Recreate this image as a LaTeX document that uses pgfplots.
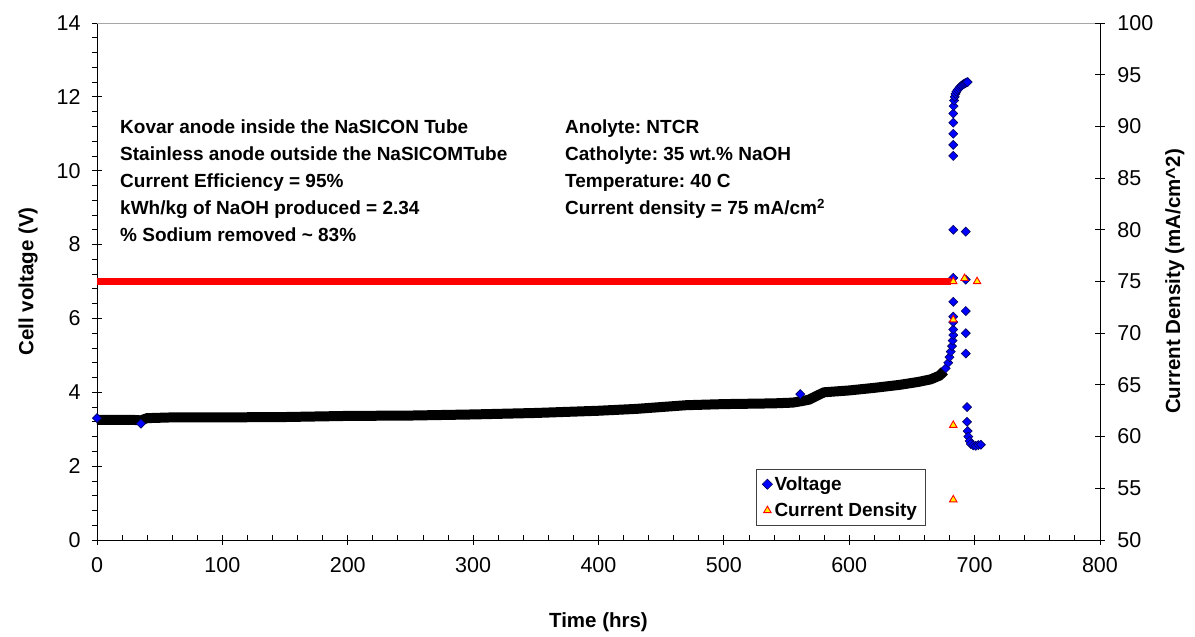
\documentclass[border=0pt]{standalone}
\usepackage{fontspec}
\setmainfont{Liberation Sans}
\usepackage{pgfplots}
\pgfplotsset{compat=1.18}
\begin{document}
\frenchspacing
\begin{tikzpicture}[x=1pt,y=1pt]
\useasboundingbox (-97,-97) rectangle (1098,540);
\pgfplotsset{
  common/.style={
    at={(0,0)}, anchor=south west,
    scale only axis, width=1003pt, height=517pt,
    xmin=0, xmax=800,
    tick align=center, major tick length=10pt, minor tick length=5pt,
    tick style={black, line width=0.8pt},
    axis line style={black, line width=0.8pt},
    ticklabel style={font=\fontsize{21.5}{25}\selectfont},
    /pgf/number format/assume math mode=true,
  }
}
\begin{axis}[common,
  ymin=0, ymax=14,
  axis x line*=bottom, axis y line*=left,
  xtick={0,100,...,800}, ytick={0,2,...,14},
  minor x tick num=4, minor y tick num=4,
  minor x tick style={yshift=2.5pt}, minor y tick style={xshift=-2.5pt},
  xticklabel style={yshift=-9pt},
  yticklabel style={xshift=-8pt},
  xlabel={Time (hrs)}, ylabel={Cell voltage (V)},
  every axis x label/.style={at={(axis description cs:0.5,0)}, anchor=center, yshift=-82pt,
    font=\bfseries\fontsize{20.5}{24}\selectfont},
  every axis y label/.style={at={([xshift=-69pt]axis description cs:0,0.5)}, anchor=center, rotate=90,
    font=\bfseries\fontsize{20.5}{24}\selectfont},
  clip=false,
]
\draw[gray!70, line width=0.8pt] (rel axis cs:0,1) -- (rel axis cs:1,1);
% dense voltage band
\addplot[black, line width=10pt, forget plot] coordinates {
(0,3.25)(30,3.25)(35,3.24)(40,3.3)(60,3.32)(100,3.32)(150,3.33)(200,3.36)
(250,3.37)(300,3.4)(350,3.44)(400,3.5)(430,3.55)(450,3.6)(470,3.65)
(500,3.68)(540,3.7)(555,3.72)(562,3.76)(568,3.8)(575,3.92)(580,4.0)
(600,4.05)(620,4.12)(640,4.2)(655,4.28)(665,4.35)(672,4.45)(676,4.58)};
% voltage markers
\addplot[only marks, mark=square*, mark size=3.2pt,
  mark options={rotate=45, fill=blue, draw=blue!35!black, line width=0.6pt}] coordinates {
(0,3.3)(561,3.95)(35,3.15)
(677,4.65)(679,4.8)(680,4.95)(681,5.1)(682,5.25)(682.5,5.4)(683,5.55)(683,5.7)
(683,5.9)(683,6.05)(683,6.45)(683,7.1)(683,8.4)(683,10.4)(683,10.7)(683,11.0)
(683,11.3)(683,11.55)(683.3,11.75)(683.7,11.9)(684.2,12.0)(684.8,12.08)
(685.5,12.14)(686.5,12.19)(687.5,12.23)(688.5,12.27)(689.5,12.3)(690.5,12.33)
(691.5,12.35)(692.5,12.37)(693.5,12.39)(694.5,12.4)
(693,8.35)(693,7.05)(693,6.2)(693,5.6)(693,5.05)(694,3.6)(694,3.2)
(694.5,2.95)(695,2.8)(696,2.68)(697,2.6)(699,2.56)(701,2.55)(703,2.57)(705,2.58)};
\end{axis}
\begin{axis}[common,
  ymin=50, ymax=100,
  axis y line*=right, axis x line=none,
  ytick={50,55,...,100},
  yticklabel style={xshift=9pt},
  ylabel={Current Density (mA/cm\textasciicircum 2)},
  every axis y label/.style={at={([xshift=75pt]axis description cs:1,0.5)}, anchor=center, rotate=90,
    font=\bfseries\fontsize{20.5}{24}\selectfont},
  legend style={at={(0.657,0.137)}, anchor=north west, draw=black!75, line width=0.8pt,
    font=\bfseries\fontsize{19}{22}\selectfont, row sep=7pt, inner xsep=6pt, inner ysep=5pt,
    legend cell align=left},
  clip=false,
]
\addlegendimage{only marks, mark=square*, mark size=3.6pt,
  mark options={rotate=45, fill=blue, draw=blue!35!black, line width=0.6pt}}
\addlegendentry{Voltage}
\addplot[red, line width=7pt, forget plot] coordinates {
(0,75)(100,75)(200,75)(300,75)(400,75)(500,75)(600,75)(681,75)};
\addplot[only marks, mark=triangle*, mark size=4.3pt,
  mark options={fill=yellow, draw=red, line width=0.9pt}] coordinates {
(683,75)(683,71.3)(683,61.1)(683,53.9)(692,75.3)(702,75)};
\addlegendentry{Current Density}
\end{axis}
\node[anchor=north west, align=left, font=\bfseries\fontsize{19}{27}\selectfont, inner sep=0pt]
  at (23,420) {Kovar anode inside the NaSICON Tube\\Stainless anode outside the NaSICOMTube\\Current Efficiency = 95\%\\kWh/kg of NaOH produced = 2.34\\\% Sodium removed \textasciitilde{} 83\%};
\node[anchor=north west, align=left, font=\bfseries\fontsize{19}{27}\selectfont, inner sep=0pt]
  at (468,420) {Anolyte: NTCR\\Catholyte: 35 wt.\% NaOH\\Temperature: 40 C\\Current density = 75 mA/cm\textsuperscript{2}};
\end{tikzpicture}
\end{document}
